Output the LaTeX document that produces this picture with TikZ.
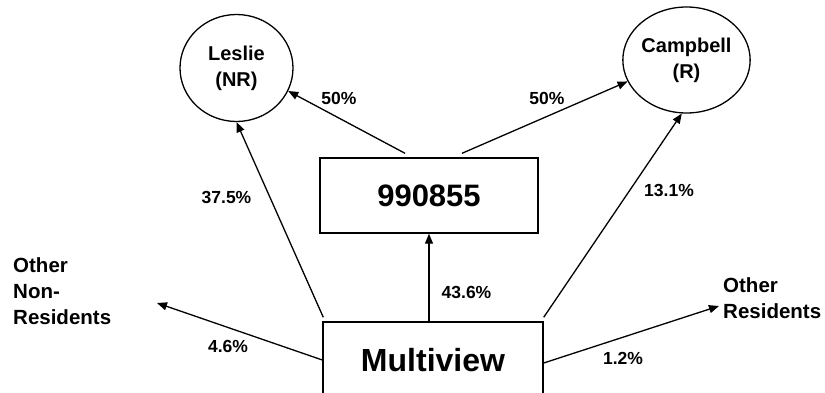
\documentclass[tikz,border=0pt]{standalone}
\usepackage{fontspec}
\setmainfont{Liberation Sans}
\usetikzlibrary{arrows.meta,shapes.geometric}
\begin{document}
\begin{tikzpicture}[x=1pt,y=-1pt,
  circ/.style={ellipse,draw,line width=1.3pt,inner sep=0pt,minimum width=113pt,minimum height=107pt,align=center,font=\fontsize{20}{26}\selectfont\bfseries},
  boxnode/.style={rectangle,draw,line width=1.4pt,inner sep=0pt,font=\fontsize{31}{36}\selectfont\bfseries},
  pct/.style={inner sep=0pt,font=\fontsize{17.5}{21}\selectfont\bfseries},
  outer/.style={inner sep=0pt,align=left,anchor=west,font=\fontsize{20.5}{26}\selectfont\bfseries},
  flow/.style={line width=1.3pt,-{Triangle[length=10pt,width=8pt]}}
]
\clip (0,0) rectangle (825,393);
\useasboundingbox (0,0) rectangle (825,393);
\node[circ] (leslie) at (236.5,68) {Leslie\\(NR)};
\node[circ,minimum height=106pt] (campbell) at (686.5,60) {Campbell\\(R)};
\node[boxnode,minimum width=218pt,minimum height=75pt] (box990) at (429,195.5) {990855};
\node[boxnode,minimum width=220pt,minimum height=76pt,font=\fontsize{32}{38}\selectfont\bfseries] (multi) at (433,360) {Multiview};
\node[outer] (otherNR) at (13,291) {Other\\Non-\\Residents};
\node[outer] (otherR) at (723,298.5) {Other\\Residents};
\coordinate (tipNR) at (157,303);
\coordinate (tipR) at (719,306);

\draw[flow] ([xshift=-24pt,yshift=4pt]box990.north) -- (leslie.-24);
\draw[flow] ([xshift=33pt,yshift=4pt]box990.north) -- (campbell.200);
\draw[flow] ([xshift=1pt,yshift=4pt]multi.north west) -- (leslie.south);
\draw[flow] ([yshift=4pt]multi.north east) -- (campbell.265);
\draw[flow] (box990.south |- multi.north) -- (box990.south);
\draw[flow] (multi.west) -- (tipNR);
\draw[flow] ([yshift=-3pt]multi.east) -- (tipR);

\node[pct] (p1) at (339,98.5) {50\%};
\node[pct] (p2) at (547,98.5) {50\%};
\node[pct] (p3) at (226.5,197.5) {37.5\%};
\node[pct] (p4) at (669,190.5) {13.1\%};
\node[pct] (p5) at (466.5,292.5) {43.6\%};
\node[pct] (p6) at (228,346.5) {4.6\%};
\node[pct] (p7) at (623,358.5) {1.2\%};
\end{tikzpicture}
\end{document}
